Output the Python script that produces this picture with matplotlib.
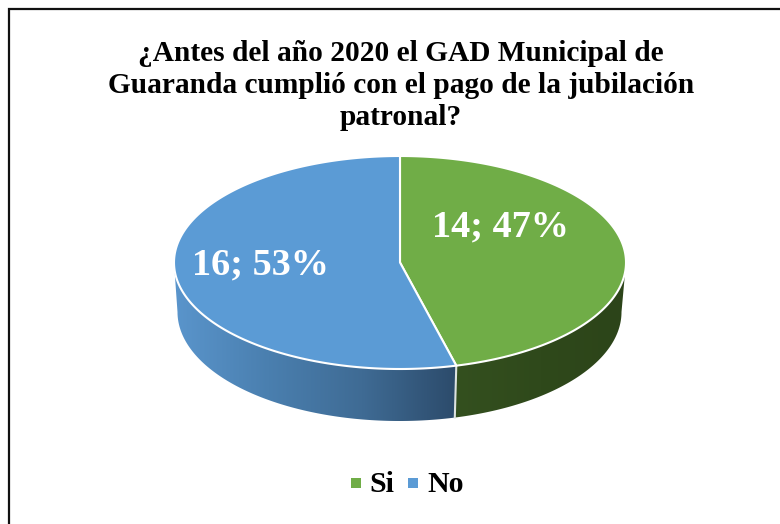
import numpy as np
import matplotlib
matplotlib.use("Agg")
import matplotlib.pyplot as plt
from matplotlib.patches import Polygon, Rectangle
from matplotlib.colors import LinearSegmentedColormap

categories = ["Si", "No"]
values = [14, 16]
title = "¿Antes del año 2020 el GAD Municipal de\nGuaranda cumplió con el pago de la jubilación\npatronal?"
colors = ["#70AD47", "#5B9BD5"]

plt.rcParams["font.family"] = ["Liberation Serif", "DejaVu Serif"]
W, H = 780, 524
fig = plt.figure(figsize=(W / 100, H / 100), dpi=100, facecolor="white")
ax = fig.add_axes([0, 0, 1, 1])
ax.set_xlim(0, W)
ax.set_ylim(H, 0)
ax.axis("off")

# frame: only the top and left edges fall inside the crop
ax.plot([9, 9, W], [H, 9, 9], color="#111111", lw=1.6, solid_joinstyle="miter", zorder=1)

cx, cy, rx, ry = 400, 262.5, 226, 106.5
bcx, bcy, brx, bry = 399.5, 312, 222, 109
persp = 1.21  # foreshortening of angles near the viewer


def warp(theta):
    return np.unwrap(np.arctan2(np.sin(theta), np.cos(theta) / persp))


def pts(theta, x0, y0, a, b):
    p = warp(theta)
    return x0 + a * np.sin(p), y0 - b * np.cos(p)


fractions = np.array(values) / sum(values)
edges = np.concatenate([[0], np.cumsum(fractions)]) * 2 * np.pi

side_cmaps = [
    LinearSegmentedColormap.from_list("g", ["#34501F", "#2F491B", "#2C4419"]),
    LinearSegmentedColormap.from_list("b", ["#5A95CC", "#4A7FAF", "#3F6B94", "#2C4B6B"]),
]

# sides: only the near half of the drum is visible
for i in range(len(values)):
    a0, a1 = edges[i], edges[i + 1]
    lo, hi = max(a0, np.pi / 2), min(a1, 3 * np.pi / 2)
    if hi <= lo:
        continue
    t = np.linspace(lo, hi, 200)
    xt, yt = pts(t, cx, cy, rx, ry)
    xb, yb = pts(t, bcx, bcy, brx, bry)
    poly = Polygon(np.r_[np.c_[xt, yt], np.c_[xb, yb][::-1]], closed=True, fc="none", ec="none")
    ax.add_patch(poly)
    xmin, xmax = min(xt.min(), xb.min()), max(xt.max(), xb.max())
    grad = np.linspace(0, 1, 256)[None, :]
    im = ax.imshow(grad, extent=[xmin, xmax, 425, 260], cmap=side_cmaps[i],
                   aspect="auto", zorder=2, vmin=0, vmax=1)
    im.set_clip_path(poly)

ax.set_xlim(0, W)
ax.set_ylim(H, 0)

# seam between the two slices on the side
xt, yt = pts(np.array([edges[1]]), cx, cy, rx, ry)
xb, yb = pts(np.array([edges[1]]), bcx, bcy, brx, bry)
ax.plot([xt[0], xb[0]], [yt[0], yb[0]], color="#DDE3E0", lw=1.5, zorder=3)

# top faces
for i in range(len(values)):
    t = np.linspace(edges[i], edges[i + 1], 300)
    xt, yt = pts(t, cx, cy, rx, ry)
    ax.add_patch(Polygon(np.r_[[[cx, cy]], np.c_[xt, yt]], closed=True,
                         fc=colors[i], ec="white", lw=1.5, joinstyle="round", zorder=4))

# data labels
label_pos = [(500, 227), (260, 265)]
for v, f, (lx, ly) in zip(values, fractions, label_pos):
    ax.text(lx, ly, f"{v}; {f * 100:.0f}%", color="white", fontsize=27.5, fontweight="bold",
            ha="center", va="center", zorder=5)

# title
ax.text(401, 85.5, title, ha="center", va="center", fontsize=21.2, fontweight="bold",
        color="black", linespacing=1.255, zorder=5)

# legend
leg_sq = [356, 413]
leg_tx = [369, 427]
for c, name, sx, tx in zip(colors, categories, leg_sq, leg_tx):
    ax.add_patch(Rectangle((sx - 5, 478), 10, 10, fc=c, ec="none", zorder=5))
    ax.text(tx, 484, name, ha="left", va="center", fontsize=21.5, fontweight="bold",
            color="black", zorder=5)

fig.savefig("out.png", dpi=100)
